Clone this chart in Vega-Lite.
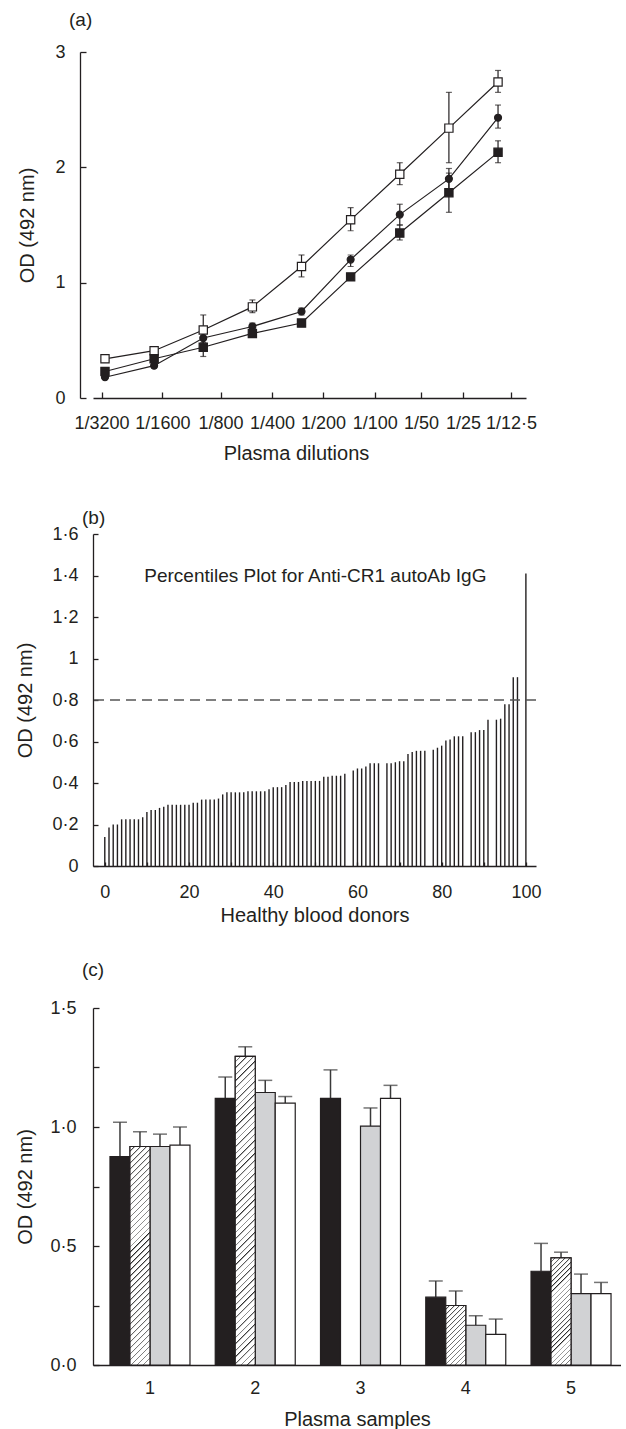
{
  "$schema": "https://vega.github.io/schema/vega-lite/v6.json",
  "background": "white",
  "padding": {"left": 15, "top": 11, "right": 0, "bottom": 0},
  "config": {
    "font": "Liberation Sans",
    "view": {"stroke": null},
    "axis": {"domainColor": "#231f20", "domainWidth": 1.3, "tickColor": "#231f20", "tickWidth": 1.3, "labelColor": "#231f20", "titleColor": "#231f20", "labelFontSize": 18, "titleFontSize": 20, "titleFontWeight": "normal", "grid": false, "labelFont": "Liberation Sans", "titleFont": "Liberation Sans"},
    "title": {"fontSize": 19, "fontWeight": "normal", "anchor": "start", "frame": "group", "color": "#231f20", "font": "Liberation Sans"}
  },
  "columns": 1,
  "spacing": 46,
  "concat": [
    {
      "width": 433,
      "height": 346,
      "title": {"text": "(a)", "dx": -24, "offset": 13},
      "data": {"values": [
        {"series": "open", "dilution": 3200, "od": 0.34, "lo": 0.31, "hi": 0.37},
        {"series": "open", "dilution": 1600, "od": 0.41, "lo": 0.39, "hi": 0.43},
        {"series": "open", "dilution": 800, "od": 0.59, "lo": 0.46, "hi": 0.72},
        {"series": "open", "dilution": 400, "od": 0.79, "lo": 0.74, "hi": 0.85},
        {"series": "open", "dilution": 200, "od": 1.14, "lo": 1.05, "hi": 1.24},
        {"series": "open", "dilution": 100, "od": 1.545, "lo": 1.45, "hi": 1.65},
        {"series": "open", "dilution": 50, "od": 1.94, "lo": 1.85, "hi": 2.04},
        {"series": "open", "dilution": 25, "od": 2.34, "lo": 2.04, "hi": 2.65},
        {"series": "open", "dilution": 12.5, "od": 2.74, "lo": 2.65, "hi": 2.84},
        {"series": "circle", "dilution": 3200, "od": 0.18, "lo": 0.16, "hi": 0.2},
        {"series": "circle", "dilution": 1600, "od": 0.28, "lo": 0.26, "hi": 0.3},
        {"series": "circle", "dilution": 800, "od": 0.52, "lo": 0.48, "hi": 0.56},
        {"series": "circle", "dilution": 400, "od": 0.62, "lo": 0.59, "hi": 0.65},
        {"series": "circle", "dilution": 200, "od": 0.75, "lo": 0.72, "hi": 0.78},
        {"series": "circle", "dilution": 100, "od": 1.2, "lo": 1.14, "hi": 1.24},
        {"series": "circle", "dilution": 50, "od": 1.59, "lo": 1.5, "hi": 1.68},
        {"series": "circle", "dilution": 25, "od": 1.9, "lo": 1.81, "hi": 1.99},
        {"series": "circle", "dilution": 12.5, "od": 2.43, "lo": 2.34, "hi": 2.54},
        {"series": "filled", "dilution": 3200, "od": 0.23, "lo": 0.21, "hi": 0.25},
        {"series": "filled", "dilution": 1600, "od": 0.34, "lo": 0.32, "hi": 0.36},
        {"series": "filled", "dilution": 800, "od": 0.44, "lo": 0.36, "hi": 0.52},
        {"series": "filled", "dilution": 400, "od": 0.56, "lo": 0.53, "hi": 0.59},
        {"series": "filled", "dilution": 200, "od": 0.65, "lo": 0.62, "hi": 0.68},
        {"series": "filled", "dilution": 100, "od": 1.05, "lo": 1.03, "hi": 1.07},
        {"series": "filled", "dilution": 50, "od": 1.43, "lo": 1.37, "hi": 1.5},
        {"series": "filled", "dilution": 25, "od": 1.78, "lo": 1.61, "hi": 1.95},
        {"series": "filled", "dilution": 12.5, "od": 2.13, "lo": 2.04, "hi": 2.23}
      ]},
      "encoding": {
        "x": {"field": "dilution", "type": "quantitative",
          "scale": {"type": "log", "domain": [8.425, 3790], "reverse": true, "nice": false, "zero": false},
          "axis": {"title": "Plasma dilutions", "values": [3357, 1424, 627, 303.3, 147.7, 71.2, 37.0, 20.5, 10.41],
            "labelExpr": "['1/3200','1/1600','1/800','1/400','1/200','1/100','1/50','1/25','1/12·5'][round(log(3200/datum.value)/log(2))]",
            "tickSize": -6, "labelPadding": 22, "titlePadding": 11, "titleX": 203, "labelFlush": false, "labelOverlap": false}}
      },
      "layer": [
        {"data": {"values": [{}]},
         "mark": {"type": "rule", "color": "#231f20", "strokeWidth": 1.3},
         "encoding": {"x": {"datum": 4553}, "x2": {"datum": 8.425}, "y": {"datum": 0}}},
        {"mark": {"type": "rule", "color": "#231f20", "strokeWidth": 1.2},
         "encoding": {"y": {"field": "lo", "type": "quantitative", "scale": {"domain": [0, 3], "nice": false},
            "axis": {"title": "OD (492 nm)", "values": [0, 1, 2, 3], "format": "d", "tickSize": -6, "labelPadding": 21, "titlePadding": 17, "offset": 13}},
           "y2": {"field": "hi"}}},
        {"mark": {"type": "tick", "orient": "horizontal", "size": 6, "thickness": 1.2, "color": "#231f20"},
         "encoding": {"y": {"field": "lo", "type": "quantitative"}}},
        {"mark": {"type": "tick", "orient": "horizontal", "size": 6, "thickness": 1.2, "color": "#231f20"},
         "encoding": {"y": {"field": "hi", "type": "quantitative"}}},
        {"mark": {"type": "line", "color": "#231f20", "strokeWidth": 1.2},
         "encoding": {"y": {"field": "od", "type": "quantitative"}, "detail": {"field": "series"}}},
        {"mark": {"type": "point", "filled": true, "stroke": "#231f20", "strokeWidth": 1.2, "opacity": 1},
         "encoding": {
           "y": {"field": "od", "type": "quantitative"},
           "shape": {"field": "series", "type": "nominal", "scale": {"domain": ["open", "circle", "filled"], "range": ["square", "circle", "square"]}, "legend": null},
           "fill": {"condition": {"test": "datum.series == 'open'", "value": "#ffffff"}, "value": "#231f20"},
           "size": {"condition": {"test": "datum.series == 'circle'", "value": 48}, "value": 68}
         }}
      ]
    },
    {
      "columns": 1,
      "spacing": 36,
      "concat": [
        {
          "width": 443,
          "height": 332,
          "title": {"text": "(b)", "dx": -11, "offset": -3},
          "layer": [
            {
              "data": {"values": [
                {"donor": 0, "od": 0.14}, {"donor": 1, "od": 0.185}, {"donor": 2, "od": 0.2}, {"donor": 3, "od": 0.2},
                {"donor": 4, "od": 0.225}, {"donor": 5, "od": 0.225}, {"donor": 6, "od": 0.225}, {"donor": 7, "od": 0.225},
                {"donor": 8, "od": 0.225}, {"donor": 9, "od": 0.235}, {"donor": 10, "od": 0.26}, {"donor": 11, "od": 0.27},
                {"donor": 12, "od": 0.27}, {"donor": 13, "od": 0.28}, {"donor": 14, "od": 0.285}, {"donor": 15, "od": 0.295},
                {"donor": 16, "od": 0.295}, {"donor": 17, "od": 0.295}, {"donor": 18, "od": 0.295}, {"donor": 19, "od": 0.295},
                {"donor": 20, "od": 0.295}, {"donor": 21, "od": 0.305}, {"donor": 22, "od": 0.305}, {"donor": 23, "od": 0.32},
                {"donor": 24, "od": 0.32}, {"donor": 25, "od": 0.32}, {"donor": 26, "od": 0.32}, {"donor": 27, "od": 0.325},
                {"donor": 28, "od": 0.345}, {"donor": 29, "od": 0.355}, {"donor": 30, "od": 0.355}, {"donor": 31, "od": 0.355},
                {"donor": 32, "od": 0.355}, {"donor": 33, "od": 0.355}, {"donor": 34, "od": 0.36}, {"donor": 35, "od": 0.36},
                {"donor": 36, "od": 0.36}, {"donor": 37, "od": 0.36}, {"donor": 38, "od": 0.36}, {"donor": 39, "od": 0.37},
                {"donor": 40, "od": 0.38}, {"donor": 41, "od": 0.38}, {"donor": 42, "od": 0.38}, {"donor": 43, "od": 0.39},
                {"donor": 44, "od": 0.405}, {"donor": 45, "od": 0.405}, {"donor": 46, "od": 0.405}, {"donor": 47, "od": 0.41},
                {"donor": 48, "od": 0.41}, {"donor": 49, "od": 0.41}, {"donor": 50, "od": 0.41}, {"donor": 51, "od": 0.41},
                {"donor": 52, "od": 0.43}, {"donor": 53, "od": 0.43}, {"donor": 54, "od": 0.435}, {"donor": 55, "od": 0.435},
                {"donor": 56, "od": 0.435}, {"donor": 57, "od": 0.445}, {"donor": 59, "od": 0.46}, {"donor": 60, "od": 0.47},
                {"donor": 61, "od": 0.47}, {"donor": 62, "od": 0.48}, {"donor": 63, "od": 0.495}, {"donor": 64, "od": 0.495},
                {"donor": 65, "od": 0.495}, {"donor": 67, "od": 0.495}, {"donor": 68, "od": 0.495}, {"donor": 69, "od": 0.5},
                {"donor": 70, "od": 0.505}, {"donor": 71, "od": 0.505}, {"donor": 72, "od": 0.54}, {"donor": 73, "od": 0.55},
                {"donor": 74, "od": 0.555}, {"donor": 75, "od": 0.555}, {"donor": 76, "od": 0.555}, {"donor": 78, "od": 0.56},
                {"donor": 79, "od": 0.57}, {"donor": 80, "od": 0.58}, {"donor": 81, "od": 0.605}, {"donor": 82, "od": 0.61},
                {"donor": 83, "od": 0.625}, {"donor": 84, "od": 0.625}, {"donor": 85, "od": 0.625}, {"donor": 87, "od": 0.645},
                {"donor": 88, "od": 0.645}, {"donor": 89, "od": 0.655}, {"donor": 90, "od": 0.655}, {"donor": 91, "od": 0.705},
                {"donor": 93, "od": 0.705}, {"donor": 94, "od": 0.71}, {"donor": 95, "od": 0.78}, {"donor": 96, "od": 0.78},
                {"donor": 97, "od": 0.91}, {"donor": 98, "od": 0.91}, {"donor": 100, "od": 1.41}
              ]},
              "mark": {"type": "rule", "color": "#231f20", "strokeWidth": 1.4},
              "encoding": {
                "x": {"field": "donor", "type": "quantitative", "scale": {"domain": [-2.8, 102.4], "nice": false, "zero": false},
                  "axis": {"title": "Healthy blood donors", "values": [0, 10, 20, 30, 40, 50, 60, 70, 80, 90, 100],
                    "labelExpr": "datum.value % 20 == 0 ? datum.label : ''", "tickSize": -4, "labelPadding": 21, "titlePadding": 4, "labelFlush": false}},
                "y": {"field": "od", "type": "quantitative", "scale": {"domain": [0, 1.6], "nice": false},
                  "axis": {"title": "OD (492 nm)", "values": [0, 0.1, 0.2, 0.3, 0.4, 0.5, 0.6, 0.7, 0.8, 0.9, 1, 1.1, 1.2, 1.3, 1.4, 1.5, 1.6],
                    "labelExpr": "round(datum.value*10) % 2 == 1 ? '' : (round(datum.value*10) == 0 ? '0' : round(datum.value*10) == 10 ? '1' : replace(format(datum.value, '.1f'), '.', '·'))",
                    "tickSize": -5, "labelPadding": 20, "titlePadding": 16, "labelFlush": false}},
                "y2": {"datum": 0}
              }
            },
            {
              "data": {"values": [{}]},
              "mark": {"type": "rule", "strokeDash": [10, 6], "color": "#555555", "strokeWidth": 1.5},
              "encoding": {"y": {"datum": 0.8}}
            },
            {
              "data": {"values": [{}]},
              "mark": {"type": "text", "fontSize": 19, "font": "Liberation Sans", "color": "#231f20", "align": "center", "baseline": "middle"},
              "encoding": {"x": {"datum": 50}, "y": {"datum": 1.4}, "text": {"value": "Percentiles Plot for Anti-CR1 autoAb IgG"}}
            }
          ]
        },
        {
          "width": 528,
          "height": 357,
          "title": {"text": "(c)", "dx": -11, "offset": 19},
          "data": {"values": [
            {"sample": "1", "treat": "A", "od": 0.876, "hi": 1.02},
            {"sample": "1", "treat": "B", "od": 0.918, "hi": 0.98},
            {"sample": "1", "treat": "C", "od": 0.918, "hi": 0.97},
            {"sample": "1", "treat": "D", "od": 0.924, "hi": 1.0},
            {"sample": "2", "treat": "A", "od": 1.12, "hi": 1.21},
            {"sample": "2", "treat": "B", "od": 1.297, "hi": 1.337},
            {"sample": "2", "treat": "C", "od": 1.145, "hi": 1.196},
            {"sample": "2", "treat": "D", "od": 1.1, "hi": 1.128},
            {"sample": "3", "treat": "A", "od": 1.12, "hi": 1.24},
            {"sample": "3", "treat": "C", "od": 1.004, "hi": 1.08},
            {"sample": "3", "treat": "D", "od": 1.12, "hi": 1.175},
            {"sample": "4", "treat": "A", "od": 0.285, "hi": 0.353},
            {"sample": "4", "treat": "B", "od": 0.25, "hi": 0.311},
            {"sample": "4", "treat": "C", "od": 0.167, "hi": 0.207},
            {"sample": "4", "treat": "D", "od": 0.129, "hi": 0.193},
            {"sample": "5", "treat": "A", "od": 0.394, "hi": 0.511},
            {"sample": "5", "treat": "B", "od": 0.45, "hi": 0.474},
            {"sample": "5", "treat": "C", "od": 0.3, "hi": 0.382},
            {"sample": "5", "treat": "D", "od": 0.3, "hi": 0.347}
          ]},
          "encoding": {
            "x": {"field": "sample", "type": "nominal",
              "scale": {"paddingInner": 0.24, "paddingOuter": 0.128, "align": 0.63},
              "axis": {"title": "Plasma samples", "labelAngle": 0, "ticks": false, "labelPadding": 14, "titlePadding": 12}},
            "xOffset": {"field": "treat", "type": "nominal", "scale": {"domain": ["A", "B", "C", "D"], "paddingInner": 0, "paddingOuter": 0}}
          },
          "layer": [
            {"mark": {"type": "rule", "color": "#3a3a3a", "strokeWidth": 1.5},
             "encoding": {"y": {"field": "od", "type": "quantitative", "scale": {"domain": [0, 1.5], "nice": false},
                "axis": {"title": "OD (492 nm)", "values": [0, 0.25, 0.5, 0.75, 1, 1.25, 1.5],
                  "labelExpr": "round(datum.value*4) % 2 == 1 ? '' : replace(format(datum.value, '.1f'), '.', '·')",
                  "tickSize": -6, "labelPadding": 23, "titlePadding": 14, "labelFlush": false}},
               "y2": {"field": "hi"}}},
            {"mark": {"type": "tick", "orient": "horizontal", "size": 14, "thickness": 1.5, "color": "#3a3a3a"},
             "encoding": {"y": {"field": "hi", "type": "quantitative"}}},
            {"mark": {"type": "bar", "stroke": "#231f20", "strokeWidth": 1.2},
             "encoding": {"y": {"field": "od", "type": "quantitative"},
               "fill": {"condition": [{"test": "datum.treat == 'A'", "value": "#231f20"}, {"test": "datum.treat == 'C'", "value": "#d1d2d4"}], "value": "#ffffff"}}},
            {"transform": [{"filter": "datum.treat == 'B' && datum.sample == '1'"}],
             "mark": {"type": "bar", "stroke": "#231f20", "strokeWidth": 1.2,
               "fill": {"gradient": "linear", "x1": 0, "y1": 0, "x2": 0.0991, "y2": 1.0822, "stops": [
                 {"offset": 0, "color": "#fff"},
                 {"offset": 0.0175, "color": "#fff"}, {"offset": 0.0175, "color": "#222"}, {"offset": 0.025, "color": "#fff"},
                 {"offset": 0.0425, "color": "#fff"}, {"offset": 0.0425, "color": "#222"}, {"offset": 0.05, "color": "#fff"},
                 {"offset": 0.0675, "color": "#fff"}, {"offset": 0.0675, "color": "#222"}, {"offset": 0.075, "color": "#fff"},
                 {"offset": 0.0925, "color": "#fff"}, {"offset": 0.0925, "color": "#222"}, {"offset": 0.1, "color": "#fff"},
                 {"offset": 0.1175, "color": "#fff"}, {"offset": 0.1175, "color": "#222"}, {"offset": 0.125, "color": "#fff"},
                 {"offset": 0.1425, "color": "#fff"}, {"offset": 0.1425, "color": "#222"}, {"offset": 0.15, "color": "#fff"},
                 {"offset": 0.1675, "color": "#fff"}, {"offset": 0.1675, "color": "#222"}, {"offset": 0.175, "color": "#fff"},
                 {"offset": 0.1925, "color": "#fff"}, {"offset": 0.1925, "color": "#222"}, {"offset": 0.2, "color": "#fff"},
                 {"offset": 0.2175, "color": "#fff"}, {"offset": 0.2175, "color": "#222"}, {"offset": 0.225, "color": "#fff"},
                 {"offset": 0.2425, "color": "#fff"}, {"offset": 0.2425, "color": "#222"}, {"offset": 0.25, "color": "#fff"},
                 {"offset": 0.2675, "color": "#fff"}, {"offset": 0.2675, "color": "#222"}, {"offset": 0.275, "color": "#fff"},
                 {"offset": 0.2925, "color": "#fff"}, {"offset": 0.2925, "color": "#222"}, {"offset": 0.3, "color": "#fff"},
                 {"offset": 0.3175, "color": "#fff"}, {"offset": 0.3175, "color": "#222"}, {"offset": 0.325, "color": "#fff"},
                 {"offset": 0.3425, "color": "#fff"}, {"offset": 0.3425, "color": "#222"}, {"offset": 0.35, "color": "#fff"},
                 {"offset": 0.3675, "color": "#fff"}, {"offset": 0.3675, "color": "#222"}, {"offset": 0.375, "color": "#fff"},
                 {"offset": 0.3925, "color": "#fff"}, {"offset": 0.3925, "color": "#222"}, {"offset": 0.4, "color": "#fff"},
                 {"offset": 0.4175, "color": "#fff"}, {"offset": 0.4175, "color": "#222"}, {"offset": 0.425, "color": "#fff"},
                 {"offset": 0.4425, "color": "#fff"}, {"offset": 0.4425, "color": "#222"}, {"offset": 0.45, "color": "#fff"},
                 {"offset": 0.4675, "color": "#fff"}, {"offset": 0.4675, "color": "#222"}, {"offset": 0.475, "color": "#fff"},
                 {"offset": 0.4925, "color": "#fff"}, {"offset": 0.4925, "color": "#222"}, {"offset": 0.5, "color": "#fff"},
                 {"offset": 0.5175, "color": "#fff"}, {"offset": 0.5175, "color": "#222"}, {"offset": 0.525, "color": "#fff"},
                 {"offset": 0.5425, "color": "#fff"}, {"offset": 0.5425, "color": "#222"}, {"offset": 0.55, "color": "#fff"},
                 {"offset": 0.5675, "color": "#fff"}, {"offset": 0.5675, "color": "#222"}, {"offset": 0.575, "color": "#fff"},
                 {"offset": 0.5925, "color": "#fff"}, {"offset": 0.5925, "color": "#222"}, {"offset": 0.6, "color": "#fff"},
                 {"offset": 0.6175, "color": "#fff"}, {"offset": 0.6175, "color": "#222"}, {"offset": 0.625, "color": "#fff"},
                 {"offset": 0.6425, "color": "#fff"}, {"offset": 0.6425, "color": "#222"}, {"offset": 0.65, "color": "#fff"},
                 {"offset": 0.6675, "color": "#fff"}, {"offset": 0.6675, "color": "#222"}, {"offset": 0.675, "color": "#fff"},
                 {"offset": 0.6925, "color": "#fff"}, {"offset": 0.6925, "color": "#222"}, {"offset": 0.7, "color": "#fff"},
                 {"offset": 0.7175, "color": "#fff"}, {"offset": 0.7175, "color": "#222"}, {"offset": 0.725, "color": "#fff"},
                 {"offset": 0.7425, "color": "#fff"}, {"offset": 0.7425, "color": "#222"}, {"offset": 0.75, "color": "#fff"},
                 {"offset": 0.7675, "color": "#fff"}, {"offset": 0.7675, "color": "#222"}, {"offset": 0.775, "color": "#fff"},
                 {"offset": 0.7925, "color": "#fff"}, {"offset": 0.7925, "color": "#222"}, {"offset": 0.8, "color": "#fff"},
                 {"offset": 0.8175, "color": "#fff"}, {"offset": 0.8175, "color": "#222"}, {"offset": 0.825, "color": "#fff"},
                 {"offset": 0.8425, "color": "#fff"}, {"offset": 0.8425, "color": "#222"}, {"offset": 0.85, "color": "#fff"},
                 {"offset": 0.8675, "color": "#fff"}, {"offset": 0.8675, "color": "#222"}, {"offset": 0.875, "color": "#fff"},
                 {"offset": 0.8925, "color": "#fff"}, {"offset": 0.8925, "color": "#222"}, {"offset": 0.9, "color": "#fff"},
                 {"offset": 0.9175, "color": "#fff"}, {"offset": 0.9175, "color": "#222"}, {"offset": 0.925, "color": "#fff"},
                 {"offset": 0.9425, "color": "#fff"}, {"offset": 0.9425, "color": "#222"}, {"offset": 0.95, "color": "#fff"},
                 {"offset": 0.9675, "color": "#fff"}, {"offset": 0.9675, "color": "#222"}, {"offset": 0.975, "color": "#fff"},
                 {"offset": 0.9925, "color": "#fff"}, {"offset": 0.9925, "color": "#222"}, {"offset": 1, "color": "#fff"}
               ]}},
             "encoding": {"y": {"field": "od", "type": "quantitative"}}},
            {"transform": [{"filter": "datum.treat == 'B' && datum.sample == '2'"}],
             "mark": {"type": "bar", "stroke": "#231f20", "strokeWidth": 1.2,
               "fill": {"gradient": "linear", "x1": 0, "y1": 0, "x2": 0.06869, "y2": 1.06, "stops": [
                 {"offset": 0, "color": "#fff"},
                 {"offset": 0.014, "color": "#fff"}, {"offset": 0.014, "color": "#222"}, {"offset": 0.02, "color": "#fff"},
                 {"offset": 0.034, "color": "#fff"}, {"offset": 0.034, "color": "#222"}, {"offset": 0.04, "color": "#fff"},
                 {"offset": 0.054, "color": "#fff"}, {"offset": 0.054, "color": "#222"}, {"offset": 0.06, "color": "#fff"},
                 {"offset": 0.074, "color": "#fff"}, {"offset": 0.074, "color": "#222"}, {"offset": 0.08, "color": "#fff"},
                 {"offset": 0.094, "color": "#fff"}, {"offset": 0.094, "color": "#222"}, {"offset": 0.1, "color": "#fff"},
                 {"offset": 0.114, "color": "#fff"}, {"offset": 0.114, "color": "#222"}, {"offset": 0.12, "color": "#fff"},
                 {"offset": 0.134, "color": "#fff"}, {"offset": 0.134, "color": "#222"}, {"offset": 0.14, "color": "#fff"},
                 {"offset": 0.154, "color": "#fff"}, {"offset": 0.154, "color": "#222"}, {"offset": 0.16, "color": "#fff"},
                 {"offset": 0.174, "color": "#fff"}, {"offset": 0.174, "color": "#222"}, {"offset": 0.18, "color": "#fff"},
                 {"offset": 0.194, "color": "#fff"}, {"offset": 0.194, "color": "#222"}, {"offset": 0.2, "color": "#fff"},
                 {"offset": 0.214, "color": "#fff"}, {"offset": 0.214, "color": "#222"}, {"offset": 0.22, "color": "#fff"},
                 {"offset": 0.234, "color": "#fff"}, {"offset": 0.234, "color": "#222"}, {"offset": 0.24, "color": "#fff"},
                 {"offset": 0.254, "color": "#fff"}, {"offset": 0.254, "color": "#222"}, {"offset": 0.26, "color": "#fff"},
                 {"offset": 0.274, "color": "#fff"}, {"offset": 0.274, "color": "#222"}, {"offset": 0.28, "color": "#fff"},
                 {"offset": 0.294, "color": "#fff"}, {"offset": 0.294, "color": "#222"}, {"offset": 0.3, "color": "#fff"},
                 {"offset": 0.314, "color": "#fff"}, {"offset": 0.314, "color": "#222"}, {"offset": 0.32, "color": "#fff"},
                 {"offset": 0.334, "color": "#fff"}, {"offset": 0.334, "color": "#222"}, {"offset": 0.34, "color": "#fff"},
                 {"offset": 0.354, "color": "#fff"}, {"offset": 0.354, "color": "#222"}, {"offset": 0.36, "color": "#fff"},
                 {"offset": 0.374, "color": "#fff"}, {"offset": 0.374, "color": "#222"}, {"offset": 0.38, "color": "#fff"},
                 {"offset": 0.394, "color": "#fff"}, {"offset": 0.394, "color": "#222"}, {"offset": 0.4, "color": "#fff"},
                 {"offset": 0.414, "color": "#fff"}, {"offset": 0.414, "color": "#222"}, {"offset": 0.42, "color": "#fff"},
                 {"offset": 0.434, "color": "#fff"}, {"offset": 0.434, "color": "#222"}, {"offset": 0.44, "color": "#fff"},
                 {"offset": 0.454, "color": "#fff"}, {"offset": 0.454, "color": "#222"}, {"offset": 0.46, "color": "#fff"},
                 {"offset": 0.474, "color": "#fff"}, {"offset": 0.474, "color": "#222"}, {"offset": 0.48, "color": "#fff"},
                 {"offset": 0.494, "color": "#fff"}, {"offset": 0.494, "color": "#222"}, {"offset": 0.5, "color": "#fff"},
                 {"offset": 0.514, "color": "#fff"}, {"offset": 0.514, "color": "#222"}, {"offset": 0.52, "color": "#fff"},
                 {"offset": 0.534, "color": "#fff"}, {"offset": 0.534, "color": "#222"}, {"offset": 0.54, "color": "#fff"},
                 {"offset": 0.554, "color": "#fff"}, {"offset": 0.554, "color": "#222"}, {"offset": 0.56, "color": "#fff"},
                 {"offset": 0.574, "color": "#fff"}, {"offset": 0.574, "color": "#222"}, {"offset": 0.58, "color": "#fff"},
                 {"offset": 0.594, "color": "#fff"}, {"offset": 0.594, "color": "#222"}, {"offset": 0.6, "color": "#fff"},
                 {"offset": 0.614, "color": "#fff"}, {"offset": 0.614, "color": "#222"}, {"offset": 0.62, "color": "#fff"},
                 {"offset": 0.634, "color": "#fff"}, {"offset": 0.634, "color": "#222"}, {"offset": 0.64, "color": "#fff"},
                 {"offset": 0.654, "color": "#fff"}, {"offset": 0.654, "color": "#222"}, {"offset": 0.66, "color": "#fff"},
                 {"offset": 0.674, "color": "#fff"}, {"offset": 0.674, "color": "#222"}, {"offset": 0.68, "color": "#fff"},
                 {"offset": 0.694, "color": "#fff"}, {"offset": 0.694, "color": "#222"}, {"offset": 0.7, "color": "#fff"},
                 {"offset": 0.714, "color": "#fff"}, {"offset": 0.714, "color": "#222"}, {"offset": 0.72, "color": "#fff"},
                 {"offset": 0.734, "color": "#fff"}, {"offset": 0.734, "color": "#222"}, {"offset": 0.74, "color": "#fff"},
                 {"offset": 0.754, "color": "#fff"}, {"offset": 0.754, "color": "#222"}, {"offset": 0.76, "color": "#fff"},
                 {"offset": 0.774, "color": "#fff"}, {"offset": 0.774, "color": "#222"}, {"offset": 0.78, "color": "#fff"},
                 {"offset": 0.794, "color": "#fff"}, {"offset": 0.794, "color": "#222"}, {"offset": 0.8, "color": "#fff"},
                 {"offset": 0.814, "color": "#fff"}, {"offset": 0.814, "color": "#222"}, {"offset": 0.82, "color": "#fff"},
                 {"offset": 0.834, "color": "#fff"}, {"offset": 0.834, "color": "#222"}, {"offset": 0.84, "color": "#fff"},
                 {"offset": 0.854, "color": "#fff"}, {"offset": 0.854, "color": "#222"}, {"offset": 0.86, "color": "#fff"},
                 {"offset": 0.874, "color": "#fff"}, {"offset": 0.874, "color": "#222"}, {"offset": 0.88, "color": "#fff"},
                 {"offset": 0.894, "color": "#fff"}, {"offset": 0.894, "color": "#222"}, {"offset": 0.9, "color": "#fff"},
                 {"offset": 0.914, "color": "#fff"}, {"offset": 0.914, "color": "#222"}, {"offset": 0.92, "color": "#fff"},
                 {"offset": 0.934, "color": "#fff"}, {"offset": 0.934, "color": "#222"}, {"offset": 0.94, "color": "#fff"},
                 {"offset": 0.954, "color": "#fff"}, {"offset": 0.954, "color": "#222"}, {"offset": 0.96, "color": "#fff"},
                 {"offset": 0.974, "color": "#fff"}, {"offset": 0.974, "color": "#222"}, {"offset": 0.98, "color": "#fff"},
                 {"offset": 0.994, "color": "#fff"}, {"offset": 0.994, "color": "#222"}, {"offset": 1, "color": "#fff"}
               ]}},
             "encoding": {"y": {"field": "od", "type": "quantitative"}}},
            {"transform": [{"filter": "datum.treat == 'B' && datum.sample == '4'"}],
             "mark": {"type": "bar", "stroke": "#231f20", "strokeWidth": 1.2,
               "fill": {"gradient": "linear", "x1": 0, "y1": 0, "x2": 0.4035, "y2": 1.2004, "stops": [
                 {"offset": 0, "color": "#fff"},
                 {"offset": 0.04375, "color": "#fff"}, {"offset": 0.04375, "color": "#222"}, {"offset": 0.0625, "color": "#fff"},
                 {"offset": 0.10625, "color": "#fff"}, {"offset": 0.10625, "color": "#222"}, {"offset": 0.125, "color": "#fff"},
                 {"offset": 0.16875, "color": "#fff"}, {"offset": 0.16875, "color": "#222"}, {"offset": 0.1875, "color": "#fff"},
                 {"offset": 0.23125, "color": "#fff"}, {"offset": 0.23125, "color": "#222"}, {"offset": 0.25, "color": "#fff"},
                 {"offset": 0.29375, "color": "#fff"}, {"offset": 0.29375, "color": "#222"}, {"offset": 0.3125, "color": "#fff"},
                 {"offset": 0.35625, "color": "#fff"}, {"offset": 0.35625, "color": "#222"}, {"offset": 0.375, "color": "#fff"},
                 {"offset": 0.41875, "color": "#fff"}, {"offset": 0.41875, "color": "#222"}, {"offset": 0.4375, "color": "#fff"},
                 {"offset": 0.48125, "color": "#fff"}, {"offset": 0.48125, "color": "#222"}, {"offset": 0.5, "color": "#fff"},
                 {"offset": 0.54375, "color": "#fff"}, {"offset": 0.54375, "color": "#222"}, {"offset": 0.5625, "color": "#fff"},
                 {"offset": 0.60625, "color": "#fff"}, {"offset": 0.60625, "color": "#222"}, {"offset": 0.625, "color": "#fff"},
                 {"offset": 0.66875, "color": "#fff"}, {"offset": 0.66875, "color": "#222"}, {"offset": 0.6875, "color": "#fff"},
                 {"offset": 0.73125, "color": "#fff"}, {"offset": 0.73125, "color": "#222"}, {"offset": 0.75, "color": "#fff"},
                 {"offset": 0.79375, "color": "#fff"}, {"offset": 0.79375, "color": "#222"}, {"offset": 0.8125, "color": "#fff"},
                 {"offset": 0.85625, "color": "#fff"}, {"offset": 0.85625, "color": "#222"}, {"offset": 0.875, "color": "#fff"},
                 {"offset": 0.91875, "color": "#fff"}, {"offset": 0.91875, "color": "#222"}, {"offset": 0.9375, "color": "#fff"},
                 {"offset": 0.98125, "color": "#fff"}, {"offset": 0.98125, "color": "#222"}, {"offset": 1, "color": "#fff"}
               ]}},
             "encoding": {"y": {"field": "od", "type": "quantitative"}}},
            {"transform": [{"filter": "datum.treat == 'B' && datum.sample == '5'"}],
             "mark": {"type": "bar", "stroke": "#231f20", "strokeWidth": 1.2,
               "fill": {"gradient": "linear", "x1": 0, "y1": 0, "x2": 0.2141, "y2": 1.1466, "stops": [
                 {"offset": 0, "color": "#fff"},
                 {"offset": 0.028, "color": "#fff"}, {"offset": 0.028, "color": "#222"}, {"offset": 0.04, "color": "#fff"},
                 {"offset": 0.068, "color": "#fff"}, {"offset": 0.068, "color": "#222"}, {"offset": 0.08, "color": "#fff"},
                 {"offset": 0.108, "color": "#fff"}, {"offset": 0.108, "color": "#222"}, {"offset": 0.12, "color": "#fff"},
                 {"offset": 0.148, "color": "#fff"}, {"offset": 0.148, "color": "#222"}, {"offset": 0.16, "color": "#fff"},
                 {"offset": 0.188, "color": "#fff"}, {"offset": 0.188, "color": "#222"}, {"offset": 0.2, "color": "#fff"},
                 {"offset": 0.228, "color": "#fff"}, {"offset": 0.228, "color": "#222"}, {"offset": 0.24, "color": "#fff"},
                 {"offset": 0.268, "color": "#fff"}, {"offset": 0.268, "color": "#222"}, {"offset": 0.28, "color": "#fff"},
                 {"offset": 0.308, "color": "#fff"}, {"offset": 0.308, "color": "#222"}, {"offset": 0.32, "color": "#fff"},
                 {"offset": 0.348, "color": "#fff"}, {"offset": 0.348, "color": "#222"}, {"offset": 0.36, "color": "#fff"},
                 {"offset": 0.388, "color": "#fff"}, {"offset": 0.388, "color": "#222"}, {"offset": 0.4, "color": "#fff"},
                 {"offset": 0.428, "color": "#fff"}, {"offset": 0.428, "color": "#222"}, {"offset": 0.44, "color": "#fff"},
                 {"offset": 0.468, "color": "#fff"}, {"offset": 0.468, "color": "#222"}, {"offset": 0.48, "color": "#fff"},
                 {"offset": 0.508, "color": "#fff"}, {"offset": 0.508, "color": "#222"}, {"offset": 0.52, "color": "#fff"},
                 {"offset": 0.548, "color": "#fff"}, {"offset": 0.548, "color": "#222"}, {"offset": 0.56, "color": "#fff"},
                 {"offset": 0.588, "color": "#fff"}, {"offset": 0.588, "color": "#222"}, {"offset": 0.6, "color": "#fff"},
                 {"offset": 0.628, "color": "#fff"}, {"offset": 0.628, "color": "#222"}, {"offset": 0.64, "color": "#fff"},
                 {"offset": 0.668, "color": "#fff"}, {"offset": 0.668, "color": "#222"}, {"offset": 0.68, "color": "#fff"},
                 {"offset": 0.708, "color": "#fff"}, {"offset": 0.708, "color": "#222"}, {"offset": 0.72, "color": "#fff"},
                 {"offset": 0.748, "color": "#fff"}, {"offset": 0.748, "color": "#222"}, {"offset": 0.76, "color": "#fff"},
                 {"offset": 0.788, "color": "#fff"}, {"offset": 0.788, "color": "#222"}, {"offset": 0.8, "color": "#fff"},
                 {"offset": 0.828, "color": "#fff"}, {"offset": 0.828, "color": "#222"}, {"offset": 0.84, "color": "#fff"},
                 {"offset": 0.868, "color": "#fff"}, {"offset": 0.868, "color": "#222"}, {"offset": 0.88, "color": "#fff"},
                 {"offset": 0.908, "color": "#fff"}, {"offset": 0.908, "color": "#222"}, {"offset": 0.92, "color": "#fff"},
                 {"offset": 0.948, "color": "#fff"}, {"offset": 0.948, "color": "#222"}, {"offset": 0.96, "color": "#fff"},
                 {"offset": 0.988, "color": "#fff"}, {"offset": 0.988, "color": "#222"}, {"offset": 1, "color": "#fff"}
               ]}},
             "encoding": {"y": {"field": "od", "type": "quantitative"}}}
          ]
        }
      ]
    }
  ]
}
